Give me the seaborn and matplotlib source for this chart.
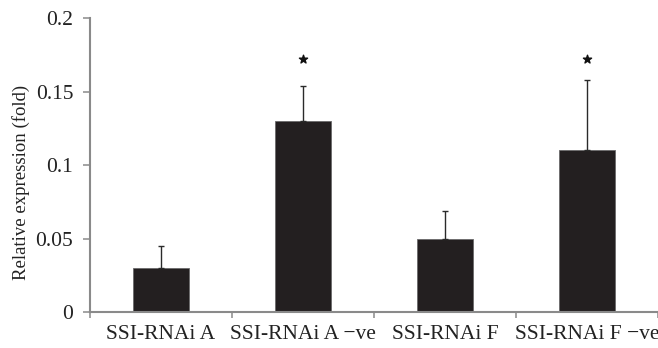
import matplotlib
matplotlib.use("Agg")
import matplotlib.pyplot as plt
import seaborn as sns
import pandas as pd

# Relative expression per construct, with upper standard error bars
categories = ["SSI-RNAi A", "SSI-RNAi A \u2212ve", "SSI-RNAi F", "SSI-RNAi F \u2212ve"]
expression = [0.030, 0.130, 0.050, 0.110]
errors = [0.015, 0.024, 0.019, 0.048]
significant = [False, True, False, True]
star_level = 0.172

y_ticks = [0, 0.05, 0.1, 0.15, 0.2]
y_tick_labels = ["0", "0.05", "0.1", "0.15", "0.2"]

df = pd.DataFrame({"group": categories, "value": expression, "err": errors})

sns.set_style("white")
plt.rcParams["font.family"] = ["Liberation Serif", "DejaVu Serif"]

axis_grey = "#8a8a8a"
bar_color = "#231f20"

fig = plt.figure(figsize=(6.58, 3.48), dpi=100)
ax = fig.add_axes([0.1368, 0.1034, 0.8632, 0.844])

sns.barplot(data=df, x="group", y="value", color=bar_color, width=0.4,
            errorbar=None, saturation=1, edgecolor="#6a6a6a", linewidth=0.6, ax=ax)

ax.errorbar(range(len(categories)), df["value"],
            yerr=[[0] * len(errors), df["err"]],
            fmt="none", ecolor="#2a2a2a", elinewidth=1.0, capsize=2.5, capthick=1.0)

for i, flag in enumerate(significant):
    if flag:
        ax.scatter(i, star_level, marker="*", s=38, color="#111111", zorder=5)

ax.set_xlim(-0.5, 3.5)
ax.set_ylim(0, 0.2)
ax.set_yticks(y_ticks)
ax.set_yticklabels(y_tick_labels)
ax.set_xticks(range(len(categories)))
ax.set_xticklabels(categories)
ax.set_xticks([-0.5, 0.5, 1.5, 2.5, 3.5], minor=True)

ax.set_xlabel("")
ax.set_ylabel("Relative expression (fold)", fontsize=13.5, color="#222222")
ax.yaxis.set_label_coords(-0.106, 0.44)

ax.tick_params(axis="x", which="major", length=0, pad=9, labelsize=15.5, labelcolor="#222222")
ax.tick_params(axis="x", which="minor", length=4.3, width=1.1, color=axis_grey, direction="out", bottom=True)
ax.tick_params(axis="y", which="major", length=5, width=1.1, color=axis_grey, direction="out",
               left=True, pad=7, labelsize=15.5, labelcolor="#222222")

for side in ["top", "right"]:
    ax.spines[side].set_visible(False)
for side in ["left", "bottom"]:
    ax.spines[side].set_color(axis_grey)
    ax.spines[side].set_linewidth(1.5)

fig.savefig("out.png", dpi=100)
